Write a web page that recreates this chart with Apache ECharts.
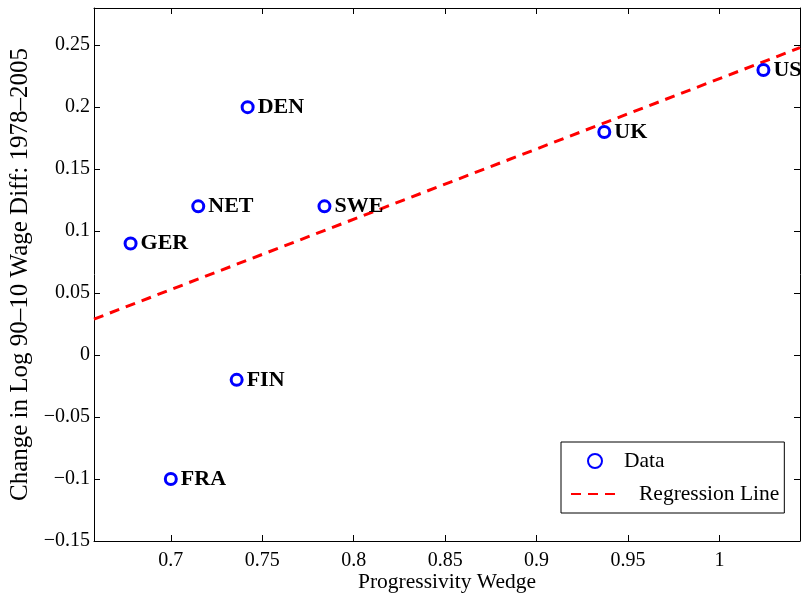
<!DOCTYPE html>
<html>
<head>
<meta charset="utf-8">
<script src="https://cdn.jsdelivr.net/npm/echarts@6/dist/echarts.min.js"></script>
<style>
  html, body { margin: 0; padding: 0; background: #fff; }
  #chart { width: 801px; height: 597px; }
</style>
</head>
<body>
<div id="chart"></div>
<script>
// countries and their values
var countries = ['GER', 'FRA', 'NET', 'FIN', 'DEN', 'SWE', 'UK', 'US'];
var wedge = [0.678, 0.700, 0.715, 0.736, 0.742, 0.784, 0.937, 1.024];
var wageDiff = [0.09, -0.10, 0.12, -0.02, 0.20, 0.12, 0.18, 0.23];

// regression line end points
var regX = [0.658, 1.044];
var regY = [0.029, 0.248];

var xTicks = [0.7, 0.75, 0.8, 0.85, 0.9, 0.95, 1];
var yTicks = [-0.15, -0.1, -0.05, 0, 0.05, 0.1, 0.15, 0.2, 0.25];

var font = 'Liberation Serif';

function fmt(v) {
    var s = String(Math.round(v * 1000) / 1000);
    return s.replace('-', '\u2212');
}

var scatterData = [];
for (var i = 0; i < countries.length; i++) {
    scatterData.push({ name: countries[i], value: [wedge[i], wageDiff[i]] });
}
var lineData = [];
for (var j = 0; j < regX.length; j++) {
    lineData.push([regX[j], regY[j]]);
}

function xAxisDef(pos, showLabels) {
    return {
        type: 'value',
        position: pos,
        min: 0.658,
        max: 1.044,
        splitLine: { show: false },
        axisLine: { onZero: false, lineStyle: { color: '#000', width: 1 } },
        axisTick: { inside: true, length: 6, customValues: xTicks, lineStyle: { color: '#000' } },
        axisLabel: {
            show: showLabels, customValues: xTicks, formatter: fmt, margin: 10,
            color: '#000', fontFamily: font, fontSize: 20
        },
        name: showLabels ? 'Progressivity Wedge' : '',
        nameLocation: 'middle',
        nameGap: 30,
        nameMoveOverlap: false,
        nameTextStyle: { color: '#000', fontFamily: font, fontSize: 21.5 }
    };
}
function yAxisDef(pos, showLabels) {
    return {
        type: 'value',
        position: pos,
        min: -0.15,
        max: 0.28,
        splitLine: { show: false },
        axisLine: { onZero: false, lineStyle: { color: '#000', width: 1 } },
        axisTick: { inside: true, length: 6, customValues: yTicks, lineStyle: { color: '#000' } },
        axisLabel: {
            show: showLabels, customValues: yTicks, formatter: fmt, margin: 4,
            color: '#000', fontFamily: font, fontSize: 20
        },
        name: showLabels ? 'Change in Log 90\u201310 Wage Diff: 1978\u20132005' : '',
        nameLocation: 'middle',
        nameGap: 61,
        nameMoveOverlap: false,
        nameTextStyle: { color: '#000', fontFamily: font, fontSize: 25 }
    };
}

var chart = echarts.init(document.getElementById('chart'));
chart.setOption({
    animation: false,
    backgroundColor: '#fff',
    grid: { left: 94, right: 1, top: 8, bottom: 56, containLabel: false, outerBoundsMode: 'none' },
    xAxis: [xAxisDef('bottom', true), xAxisDef('top', false)],
    yAxis: [yAxisDef('left', true), yAxisDef('right', false)],
    legend: {
        orient: 'vertical',
        left: 561,
        top: 442,
        padding: [8, 5, 8, 9],
        itemWidth: 48,
        itemHeight: 14,
        itemGap: 11,
        borderColor: '#000',
        borderWidth: 1,
        backgroundColor: '#fff',
        textStyle: { color: '#000', fontFamily: font, fontSize: 21.5, padding: [0, 0, 0, 15] },
        data: [
            { name: 'Data', textStyle: { padding: [0, 0, 0, 0] } },
            { name: 'Regression Line', itemStyle: { opacity: 0 } }
        ]
    },
    series: [
        {
            name: 'Regression Line',
            type: 'line',
            data: lineData,
            symbol: 'none',
            lineStyle: { color: '#ff0000', width: 3, type: [10, 7] },
            itemStyle: { color: '#ff0000' },
            z: 2
        },
        {
            name: 'Data',
            type: 'scatter',
            data: scatterData,
            symbol: 'circle',
            symbolSize: 11,
            itemStyle: { color: '#fff', borderColor: '#0000ff', borderWidth: 3, opacity: 1 },
            label: {
                show: true,
                position: 'right',
                distance: 3,
                formatter: '{b}',
                color: '#000',
                fontFamily: font,
                fontSize: 22,
                fontWeight: 'bold'
            },
            z: 3
        }
    ]
});
</script>
</body>
</html>
